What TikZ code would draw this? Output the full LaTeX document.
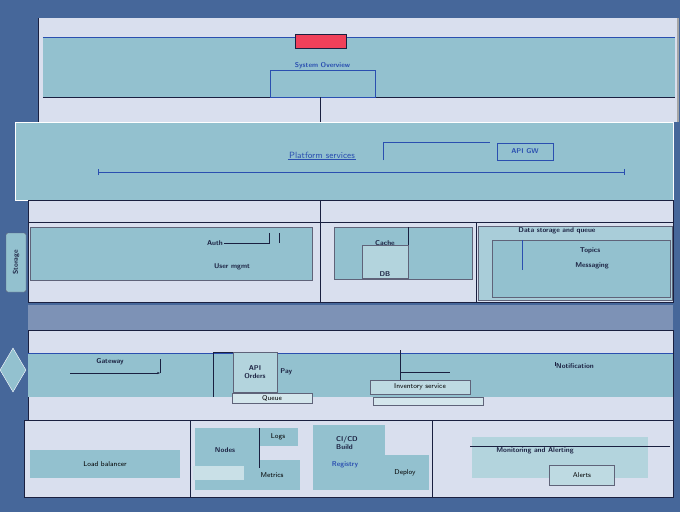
\documentclass[tikz,border=0pt]{standalone}
\usepackage{xcolor}
\definecolor{bgblue}{HTML}{46679A}
\definecolor{panel}{HTML}{D9DFEE}
\definecolor{band}{HTML}{93C1CF}
\definecolor{slate}{HTML}{7D92B6}
\definecolor{alert}{HTML}{F0405A}
\definecolor{ink}{HTML}{2A4FB0}
\definecolor{navy}{HTML}{1A2040}
\usepackage{tikz}
\usetikzlibrary{arrows.meta,positioning,shapes.geometric}

\begin{document}
\begin{tikzpicture}[
  x=1pt,y=-1pt,
  every node/.style={font=\scriptsize\sffamily,inner sep=1pt},
  frame/.style={draw=navy,line width=1pt},
  blk/.style={rectangle,draw=navy!70,thin,fill=band,inner sep=0pt},
  lbl/.style={text=ink,font=\scriptsize\sffamily\bfseries},
  dlbl/.style={text=navy,font=\scriptsize\sffamily\bfseries},
  wire/.style={draw=navy,thin},
]
\useasboundingbox (0,0) rectangle (680,512);
\fill[bgblue] (0,0) rectangle (680,512);

% top section
\fill[panel] (38,18) rectangle (678,122);
\draw[frame] (38,18) -- (38,122);
\draw[gray!70,line width=1.5pt] (678,18) -- (678,122);
\node[blk,draw=none,minimum width=632,minimum height=59] (band1) at (359,67.5) {};
\draw[ink,thick] (band1.north west) -- (band1.north east);
\draw[frame] (band1.south west) -- (band1.south east);
\node[rectangle,draw=navy,fill=alert,minimum width=51,minimum height=14] (head) at (321,41) {};
\node[blk,draw=ink,minimum width=105,minimum height=27] (core) at (322.5,83.5) {};
\node[lbl,above=0pt of core] (coretxt) {System Overview};
\draw[wire,ink] (coretxt.south west) -- (coretxt.south east);
\coordinate (split1) at (320,122);
\draw[frame] (core.south -| split1) -- (split1);

% platform band
\node[blk,draw=white,minimum width=658,minimum height=78] (band2) at (344,161) {};
\node[lbl,font=\small\sffamily] (plat) at (322,155) {Platform services};
\draw[wire,ink] (plat.south west) -- (plat.south east);
\node[rectangle,draw=ink,thin,minimum width=56,minimum height=17,lbl] (tag) at (525,151.5) {API GW};
\coordinate (hook) at (383,160);
\draw[wire,ink,thick] (hook) |- (490,142);
\coordinate (barL) at (98,172);
\coordinate (barR) at (625,172);
\draw[ink,thick,|-|] (barL) -- (barR);

% third section
\fill[panel] (28,200) rectangle (673,302);
\draw[frame] (28,200) rectangle (673,302);
\draw[frame] (28,222) -- (673,222);
\draw[frame] (320,200) -- (320,302);
\draw[frame] (476,222) -- (476,302);
\node[blk,minimum width=282,minimum height=53] (mod1) at (171,253.5) {};
\node[dlbl] (mod1a) at (215,243) {Auth};
\node[dlbl] (mod1b) at (232,267) {User mgmt};
\draw[wire] (mod1a.east) -- ++(45,0) -- ++(0,-10);
\draw[wire] (mod1a.east) ++(55,0) -- ++(0,-10);
\node[blk,minimum width=138,minimum height=52] (mod2) at (403,253) {};
\node[blk,fill=band!70,minimum width=46,minimum height=33] (mod2in) at (385,261.5) {};
\node[dlbl] (mod2txt) at (385,243) {Cache};
\draw[wire] (mod2in.north east) -- ++(0,-18);
\node[dlbl,above=1pt of mod2in.south] {DB};
\node[blk,fill=band!80,minimum width=194,minimum height=74] (mod3) at (575,263) {};
\node[blk,minimum width=178,minimum height=57] (mod3in) at (581,268.5) {};
\node[dlbl] at (557,231) {Data storage and queue};
\node[dlbl] (mod3a) at (592,266) {Messaging};
\node[dlbl] at (590,251) {Topics};
\draw[wire,ink] (mod3in.north west) ++(30,0) -- ++(0,30);
\node[blk,minimum width=20,minimum height=59,rounded corners=2pt] (side) at (16,262.5) {};
\node[dlbl,rotate=90] at (side) {Storage};

% slate band
\fill[slate] (28,305) rectangle (673,330);

% fourth section
\fill[panel] (28,330) rectangle (673,420);
\draw[frame] (28,330) rectangle (673,420);
\node[blk,draw=none,minimum width=645,minimum height=44] (band4) at (350.5,375) {};
\draw[ink] (band4.north west) -- (band4.north east);
\node[dlbl] (svc1) at (110,362) {Gateway};
\coordinate (svc1end) at (160,373);
\draw[wire,-{Stealth[length=3pt]}] (70,373) -- (svc1end);
\draw[wire] (svc1end) -- ++(0,-14);
\node[blk,fill=band!70,minimum width=44,minimum height=40] (svc2) at (255,372) {};
\node[dlbl,align=center] at (svc2) {API\\ Orders};
\node[blk,fill=white!60!band,minimum width=80,minimum height=10] (svc2a) at (272,398) {Queue};
\node[dlbl,right=2pt of svc2] (svc2b) {Pay};
\draw[wire] (svc2.north west) -- ++(-20,0) -- ++(0,45);
\node[blk,fill=white!40!band,minimum width=100,minimum height=14] (svc3) at (420,387) {Inventory service};
\node[blk,fill=white!60!band,minimum width=110,minimum height=8] (svc3a) at (428,401) {};
\draw[wire] (svc3.north west) ++(30,0) -- ++(0,-30);
\draw[wire] (400,372) -- (450,372);
\node[dlbl] (svc4) at (575,366) {Notification};
\draw[wire] (svc4.north west) -- ++(0,4);
\node[diamond,draw=white,fill=band,minimum width=26,minimum height=44,inner sep=0pt] (mark) at (13,370) {};

% bottom section
\fill[panel] (24,420) rectangle (673,497);
\draw[frame] (24,420) rectangle (673,497);
\draw[frame] (190,420) -- (190,497);
\draw[frame] (432,420) -- (432,497);
\node[blk,draw=none,minimum width=150,minimum height=28] (inf1) at (105,464) {Load balancer};
\node[blk,draw=none,minimum width=64,minimum height=62] (inf2) at (227,459) {};
\node[dlbl] at (225,450) {Nodes};
\node[blk,draw=none,fill=white!50!band,minimum width=60,minimum height=14] (inf2b) at (223,473) {};
\node[blk,draw=none,minimum width=40,minimum height=18] (inf3) at (278,437) {Logs};
\node[blk,draw=none,minimum width=56,minimum height=30] (inf4) at (272,475) {Metrics};
\draw[wire] (inf2.north east) -- ++(0,40);
\node[blk,draw=none,minimum width=72,minimum height=65] (inf5) at (349,457.5) {};
\node[dlbl,align=left] at (347,443) {CI/CD\\ Build};
\node[lbl] at (345,465) {Registry};
\node[blk,draw=none,minimum width=48,minimum height=35] (inf6) at (405,472.5) {Deploy};
\node[blk,draw=none,fill=white!30!band,minimum width=176,minimum height=41] (inf7) at (560,457.5) {};
\node[dlbl] (inf7a) at (535,451) {Monitoring and Alerting};
\node[blk,fill=white!40!band,minimum width=65,minimum height=20] (inf8) at (582,475) {Alerts};
\draw[wire] (470,446) -- (670,446);
\end{tikzpicture}
\end{document}
